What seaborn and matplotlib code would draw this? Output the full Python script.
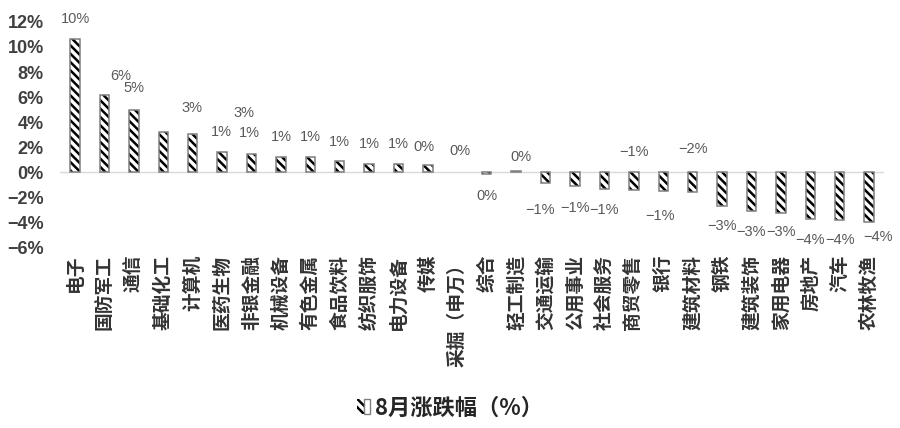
import numpy as np
import pandas as pd
import matplotlib
matplotlib.use("Agg")
import matplotlib.pyplot as plt
import seaborn as sns
from matplotlib.patches import Patch
from matplotlib.legend_handler import HandlerTuple

# --- DATA ---
industries = ["电子", "国防军工", "通信", "基础化工", "计算机", "医药生物", "非银金融",
              "机械设备", "有色金属", "食品饮料", "纺织服饰", "电力设备", "传媒", "采掘（申万）",
              "综合", "轻工制造", "交通运输", "公用事业", "社会服务", "商贸零售", "银行",
              "建筑材料", "钢铁", "建筑装饰", "家用电器", "房地产", "汽车", "农林牧渔"]
change_pct = [10.6, 6.2, 5.0, 3.2, 3.1, 1.6, 1.5,
              1.2, 1.2, 0.9, 0.7, 0.7, 0.6, 0.0,
              -0.1, 0.1, -0.85, -1.1, -1.3, -1.4, -1.5,
              -1.55, -2.65, -3.05, -3.25, -3.7, -3.8, -3.95]
value_labels = ["10%", "6%", "5%", "3%", "3%", "1%", "1%",
                "1%", "1%", "1%", "1%", "1%", "0%", "0%",
                "0%", "0%", "−1%", "−1%", "−1%", "−1%", "−1%",
                "−2%", "−3%", "−3%", "−3%", "−4%", "−4%", "−4%"]
y_ticks = [-6, -4, -2, 0, 2, 4, 6, 8, 10, 12]
legend_label = "8月涨跌幅（%）"

# --- label placement (layout only) ---
label_dx = [0, 0.56, 0, 0.97, 1.76, -0.03, -0.06,
            0, 0, 0, 0, 0, -0.15, 0.1,
            0, 0.15, -0.2, 0, 0, 0, -0.1,
            0, 0, 0, 0, 0, 0, 0.3]
label_y = [12.2, 7.7, 6.7, 5.15, 4.75, 3.2, 3.15,
           2.8, 2.85, 2.4, 2.3, 2.25, 2.05, 1.7,
           -1.85, 1.2, -2.95, -2.85, -2.95, 1.6, -3.5,
           1.9, -4.3, -4.75, -4.75, -5.4, -5.4, -5.15]

df = pd.DataFrame({"industry": industries, "change": change_pct})

sns.set_style("white")
plt.rcParams['font.family'] = ['Noto Sans CJK SC', 'DejaVu Sans']
plt.rcParams['hatch.linewidth'] = 1.8

HATCH = '\\\\\\\\'
EDGE = '#7f7f7f'

fig = plt.figure(figsize=(9, 4.28), dpi=100)
ax = fig.add_axes([0.067, 0.421, 0.915, 0.528])

# hatched fill, then gray outline on top
sns.barplot(data=df, x="industry", y="change", color='white', edgecolor='black',
            linewidth=0, hatch=HATCH, width=0.32, saturation=1, ax=ax, zorder=2)
sns.barplot(data=df, x="industry", y="change", fill=False, color=EDGE,
            linewidth=1.1, width=0.32, saturation=1, ax=ax, zorder=3)

# a zero-height bar leaves no trace in the original
for p in ax.patches:
    if p.get_height() == 0:
        p.set_linewidth(0)

ax.axhline(0, color='#d9d9d9', lw=1, zorder=1)
ax.set_xlim(-0.5, len(industries) - 0.5)
ax.set_ylim(-6, 12)
ax.set_yticks(y_ticks)
ax.set_yticklabels([f"{t}%".replace("-", "−") for t in y_ticks],
                   fontsize=13, fontweight='bold', color='#404040', family='Liberation Sans')
ax.set_xticks(range(len(industries)))
ax.set_xticklabels(industries, rotation=90, fontsize=13.5, fontweight='bold', color='#333333')
ax.tick_params(axis='y', length=0, pad=12)
ax.tick_params(axis='x', length=0, pad=5)
ax.set_xlabel('')
ax.set_ylabel('')
for s in ax.spines.values():
    s.set_visible(False)

for i, txt in enumerate(value_labels):
    ax.text(i + label_dx[i], label_y[i], txt, ha='center', va='center',
            fontsize=10.5, color='#595959', family='Liberation Sans')

# legend key: hatched square with gray border
h_fill = Patch(facecolor='white', edgecolor='black', hatch='\\\\\\\\', linewidth=0)
h_edge = Patch(facecolor='none', edgecolor=EDGE, linewidth=1.0)
fig.legend([(h_fill, h_edge)], [legend_label], loc='center', bbox_to_anchor=(0.5, 0.047),
           handler_map={tuple: HandlerTuple(ndivide=None, pad=0)},
           frameon=False, handlelength=0.6, handleheight=0.6, handletextpad=0.2,
           prop={'size': 16, 'weight': 'bold', 'family': ['Noto Sans CJK SC', 'DejaVu Sans']})

plt.savefig("out.png", dpi=100)
